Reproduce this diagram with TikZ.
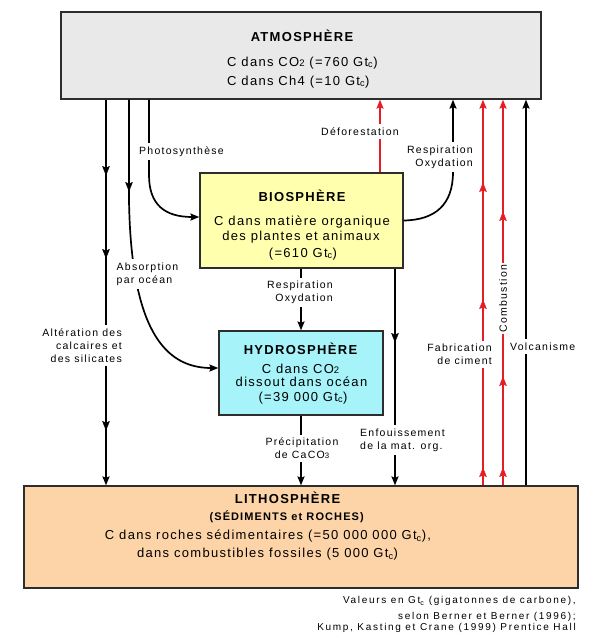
\documentclass[tikz,border=0pt]{standalone}
\usepackage{fontspec}
\setmainfont{Liberation Sans}[LetterSpace=10]
\newfontfamily\lblfont{Liberation Sans}[LetterSpace=12]
\newfontfamily\footfont{Liberation Sans}[LetterSpace=17]
\usetikzlibrary{arrows.meta,decorations.markings,calc}
\definecolor{atmfill}{RGB}{233,233,233}
\definecolor{biofill}{RGB}{255,255,173}
\definecolor{hydfill}{RGB}{166,243,250}
\definecolor{litfill}{RGB}{253,212,168}
\definecolor{boxline}{RGB}{45,45,45}
\definecolor{arrred}{RGB}{228,30,36}
\newcommand\smallmain[1]{{\fontsize{9.5}{10}\selectfont #1}}
\newcommand\smalllbl[1]{{\fontsize{7.8}{9}\selectfont #1}}
\begin{document}
\begin{tikzpicture}[x=1pt,y=-1pt,
  tipA/.tip={Stealth[length=9pt,width=7pt,inset=1.5pt]},
  box/.style={draw=boxline, line width=1.2pt, inner sep=0pt},
  conn/.style={line width=1.7pt, -tipA},
  redconn/.style={conn, color=arrred},
  marr/.style={postaction={decorate,decoration={markings,mark=at position #1 with {\arrow[line width=0.4pt]{Stealth[length=9.5pt,width=7.5pt,inset=1.5pt]}}}}},
  txt/.style={inner sep=0pt, anchor=base},
  maintxt/.style={txt, font=\fontsize{13}{15}\selectfont},
  titletxt/.style={txt, font=\bfseries\fontsize{13}{15}\selectfont},
  lbl/.style={fill=white, inner xsep=1.5pt, inner ysep=3.5pt, font=\lblfont\fontsize{10.5}{13}\selectfont},
  foottxt/.style={inner sep=0pt, anchor=base east, font=\footfont\fontsize{10}{12}\selectfont}
]
\fill[white] (0,0) rectangle (609,638);
\useasboundingbox (0,0) rectangle (609,638);

% boxes
\node[box, fill=atmfill, minimum width=480pt, minimum height=87pt] (atm) at (301,55.5) {};
\node[box, fill=biofill, minimum width=203pt, minimum height=95pt] (bio) at (301.5,220.5) {};
\node[box, fill=hydfill, minimum width=164pt, minimum height=84pt] (hydro) at (301,373) {};
\node[box, fill=litfill, minimum width=554pt, minimum height=102pt] (litho) at (301,537) {};

% texts in boxes
\node[titletxt] (atmT) at (302,41.7) {ATMOSPHÈRE};
\node[maintxt, anchor=base west] (atm1) at (227,66) {C dans CO\smallmain{2} (=760 Gt\textsubscript{c})};
\node[maintxt, anchor=base west] (atm2) at (227,85) {C dans Ch4 (=10 Gt\textsubscript{c})};

\node[titletxt] (bioT) at (302,201.7) {BIOSPHÈRE};
\node[maintxt] (bio1) at (302,225.5) {C dans matière organique};
\node[maintxt] (bio2) at (301,240.5) {des plantes et animaux};
\node[maintxt] (bio3) at (303,257) {(=610 Gt\textsubscript{c})};

\node[titletxt] (hydT) at (300.5,354.7) {HYDROSPHÈRE};
\node[maintxt] (hyd1) at (300.5,373) {C dans CO\smallmain{2}};
\node[maintxt] (hyd2) at (301.5,386.5) {dissout dans océan};
\node[maintxt] (hyd3) at (303,401) {(=39 000 Gt\textsubscript{c})};

\node[titletxt] (litT) at (287.5,503.7) {LITHOSPHÈRE};
\node[txt, font=\bfseries\fontsize{11}{13}\selectfont] (lit1) at (286.7,520) {(SÉDIMENTS et ROCHES)};
\node[maintxt] (lit2) at (268,539.5) {C dans roches sédimentaires (=50 000 000 Gt\textsubscript{c}),};
\node[maintxt] (lit3) at (267.5,557.5) {dans combustibles fossiles (5 000 Gt\textsubscript{c})};

% footer
\node[foottxt] (f1) at (576,603.5) {Valeurs en Gt\textsubscript{c} (gigatonnes de carbone),};
\node[foottxt] (f2) at (576,619.5) {selon Berner et Berner (1996);};
\node[foottxt] (f3) at (576,630) {Kump, Kasting et Crane (1999) Prentice Hall};

% column coordinates
\coordinate (xA) at (106,0);
\coordinate (xB) at (129,0);
\coordinate (xC) at (149,0);
\coordinate (xD) at (380,0);
\coordinate (xE) at (453,0);
\coordinate (xF) at (483,0);
\coordinate (xG) at (503,0);
\coordinate (xH) at (526,0);
\coordinate (xI) at (395,0);
\coordinate (xJ) at (301,0);

% connectors
\draw[conn, marr=76pt, marr=159pt, marr=331pt] (xA |- atm.south) -- (xA |- litho.north);
\draw[conn, marr=92pt] (xB |- atm.south) -- (129,200) .. controls (131,330) and (165,368) .. ([yshift=5pt]hydro.west);
\draw[conn] (xC |- atm.south) -- (149,175) .. controls (149,205) and (165,217) .. ([yshift=3.5pt]bio.west);
\draw[redconn] (xD |- bio.north) -- (xD |- atm.south);
\draw[conn] (bio.east) .. controls (435,220) and (453,205) .. (453,172) -- (xE |- atm.south);
\draw[redconn, marr=18pt, marr=186pt, marr=303pt] (xF |- litho.north) -- (xF |- atm.south);
\draw[redconn, marr=18pt, marr=109pt, marr=274pt] (xG |- litho.north) -- (xG |- atm.south);
\draw[conn] (xH |- litho.north) -- (xH |- atm.south);
\draw[conn, marr=74pt] (xI |- bio.south) -- (xI |- litho.north);
\draw[conn] (xJ |- bio.south) -- (xJ |- hydro.north);
\draw[conn] (xJ |- hydro.south) -- (xJ |- litho.north);

% labels
\node[lbl, anchor=base west] (lPhoto) at (137.5,154.5) {Photosynthèse};
\node[lbl, anchor=base] (lDefo) at (360,135.5) {Déforestation};
\node[lbl, align=right, anchor=east] (lResp1) at (474.5,157) {Respiration\\Oxydation};
\node[lbl, align=left, anchor=west] (lAbs) at (115,274) {Absorption\\par océan};
\node[lbl, align=right, anchor=east] (lResp2) at (334.5,292.5) {Respiration\\Oxydation};
\node[lbl, align=right, anchor=east] (lAlt) at (123.5,345.5) {Altération des\\calcaires et\\des silicates};
\node[lbl, align=right, anchor=east] (lFab) at (493.5,354.5) {Fabrication\\de ciment};
\node[lbl, rotate=90] (lComb) at (503,298.5) {Combustion};
\node[lbl, anchor=base west] (lVolc) at (508.5,350.5) {Volcanisme};
\node[lbl, align=left, anchor=west] (lEnf) at (358.5,440) {Enfouissement\\de la mat. org.};
\node[lbl, align=center] (lPrec) at (302,448.5) {Précipitation\\de CaCO\smalllbl{3}};
\end{tikzpicture}
\end{document}
